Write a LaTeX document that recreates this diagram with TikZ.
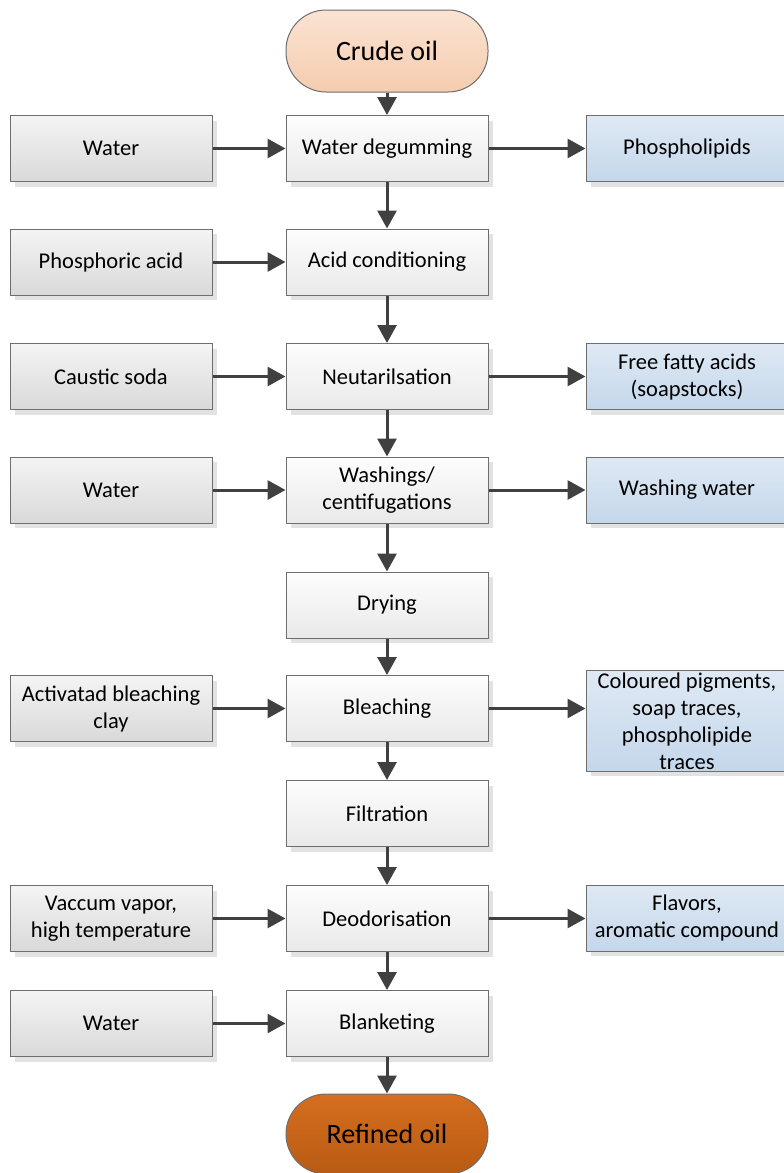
\documentclass[tikz,border=0pt]{standalone}
\usepackage{fontspec}
\setmainfont{Carlito}
\usetikzlibrary{shadows,arrows.meta}
\definecolor{edgec}{HTML}{6E6E6E}
\definecolor{arrowc}{HTML}{404040}
\definecolor{procT}{HTML}{FDFDFD}
\definecolor{procB}{HTML}{E9E9E9}
\definecolor{inT}{HTML}{F4F4F4}
\definecolor{inB}{HTML}{D9D9D9}
\definecolor{outT}{HTML}{DFE9F4}
\definecolor{outB}{HTML}{C4D7EB}
\definecolor{crudeT}{HTML}{FBE3D3}
\definecolor{crudeB}{HTML}{F5CCAF}
\definecolor{refT}{HTML}{D66E1E}
\definecolor{refB}{HTML}{B85B14}
\definecolor{shad}{HTML}{E2E2E2}
\tikzset{
  boxbase/.style={draw=edgec, line width=1pt, inner sep=2pt, align=center,
    minimum width=202pt, minimum height=66pt,
    drop shadow={shadow xshift=5pt, shadow yshift=-5pt, fill=shad, opacity=1}},
  proc/.style={boxbase, top color=procT, bottom color=procB},
  inbox/.style={boxbase, top color=inT, bottom color=inB},
  outbox/.style={boxbase, top color=outT, bottom color=outB},
  term/.style={draw=edgec, line width=1pt, rounded corners=40pt, minimum width=202pt,
    font=\fontsize{28}{33}\selectfont},
  flow/.style={draw=arrowc, line width=3pt, -{Triangle[length=18pt,width=19pt]}}
}
\begin{document}
\begin{tikzpicture}[x=1pt,y=-1pt, font=\fontsize{22.5}{27}\selectfont]
\useasboundingbox (0,0) rectangle (784,1173);
% central column
\node[term, minimum height=82pt, top color=crudeT, bottom color=crudeB] (crude) at (387,51) {Crude oil};
\node[proc] (wd) at (387,148.5) {Water degumming};
\node[proc] (ac) at (387,262) {Acid conditioning};
\node[proc] (ne) at (387,376.5) {Neutarilsation};
\node[proc] (wa) at (387,490) {Washings/\\centifugations};
\node[proc] (dr) at (387,605) {Drying};
\node[proc] (bl) at (387,708.5) {Bleaching};
\node[proc] (fi) at (387,813.5) {Filtration};
\node[proc] (de) at (387,918.5) {Deodorisation};
\node[proc] (bk) at (387,1023.5) {Blanketing};
\node[term, minimum height=80pt, top color=refT, bottom color=refB] (ref) at (387,1134) {Refined oil};
% inputs
\node[inbox] (i1) at (111,148.5) {Water};
\node[inbox] (i2) at (111,262) {Phosphoric acid};
\node[inbox] (i3) at (111,376.5) {Caustic soda};
\node[inbox] (i4) at (111,490) {Water};
\node[inbox] (i5) at (111,708.5) {Activatad bleaching\\clay};
\node[inbox] (i6) at (111,918.5) {Vaccum vapor,\\high temperature};
\node[inbox] (i7) at (111,1023.5) {Water};
% outputs
\node[outbox] (o1) at (687,148.5) {Phospholipids};
\node[outbox] (o2) at (687,376.5) {Free fatty acids\\(soapstocks)};
\node[outbox] (o3) at (687,490) {Washing water};
\node[outbox, minimum height=90pt] (o4) at (687,721) {Coloured pigments,\\soap traces,\\phospholipide\\traces};
\node[outbox] (o5) at (687,918) {Flavors,\\aromatic compound};
% vertical flow
\draw[flow] (crude) -- (wd);
\draw[flow] (wd) -- (ac);
\draw[flow] (ac) -- (ne);
\draw[flow] (ne) -- (wa);
\draw[flow] (wa) -- (dr);
\draw[flow] (dr) -- (bl);
\draw[flow] (bl) -- (fi);
\draw[flow] (fi) -- (de);
\draw[flow] (de) -- (bk);
\draw[flow] (bk) -- (ref);
% inputs
\draw[flow] (i1) -- (wd);
\draw[flow] (i2) -- (ac);
\draw[flow] (i3) -- (ne);
\draw[flow] (i4) -- (wa);
\draw[flow] (i5) -- (bl);
\draw[flow] (i6) -- (de);
\draw[flow] (i7) -- (bk);
% outputs
\draw[flow] (wd) -- (o1);
\draw[flow] (ne) -- (o2);
\draw[flow] (wa) -- (o3);
\draw[flow] (bl.east) -- (bl.east -| o4.west);
\draw[flow] (de.east) -- (de.east -| o5.west);
\end{tikzpicture}
\end{document}
